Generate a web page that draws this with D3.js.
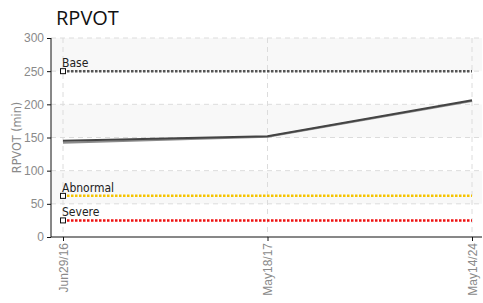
<!DOCTYPE html>
<html>
<head>
<meta charset="utf-8">
<script src="https://cdn.jsdelivr.net/npm/d3@7"></script>
<style>
  body { margin: 0; background: #fff; }
  svg { display: block; font-family: "DejaVu Sans Condensed", "Liberation Sans Narrow", sans-serif; }
  .title { font-family: "Open Sans", "DejaVu Sans", sans-serif; font-size: 20px; fill: #111; }
  .tick text { fill: #8a8a8a; font-size: 12px; }
  .ylabel { fill: #8a8a8a; font-size: 12.5px; }
  .grid line { stroke: #dcdcdc; stroke-dasharray: 5,4; }
  .reflabel { font-size: 12px; fill: #222; }
</style>
</head>
<body>
<div id="chart"></div>
<script>
// data
var dates = ["Jun29/16", "May18/17", "May14/24"];
var rpvotA = [145, 152, 206];   // darker trace
var rpvotB = [142, 151, 205];   // lighter trace underneath
var refNames = ["Base", "Abnormal", "Severe"];
var refValues = [250, 62, 25];
var refColors = ["#555555", "#f5c400", "#ee1111"];
var yTicks = [0, 50, 100, 150, 200, 250, 300];

var W = 483, H = 303;
var m = { left: 51, right: 1, top: 38, bottom: 66 };

var svg = d3.select("#chart").append("svg").attr("width", W).attr("height", H);

var x = d3.scalePoint().domain(dates).range([63, 472]);
var y = d3.scaleLinear().domain([0, 300]).range([H - m.bottom, m.top]);

// alternating bands
var bands = d3.range(0, 300, 50);
svg.append("g").selectAll("rect").data(bands).join("rect")
  .attr("x", m.left).attr("width", W - m.right - m.left)
  .attr("y", function (d) { return y(d + 50); })
  .attr("height", function (d) { return y(d) - y(d + 50); })
  .attr("fill", function (d) { return (d / 50) % 2 === 1 ? "#f8f8f8" : "#fff"; });

// grid
var grid = svg.append("g").attr("class", "grid");
grid.selectAll(".h").data(yTicks.slice(1)).join("line").attr("class", "h")
  .attr("x1", m.left).attr("x2", W - m.right)
  .attr("y1", function (d) { return y(d); }).attr("y2", function (d) { return y(d); });
grid.selectAll(".v").data(dates).join("line").attr("class", "v")
  .attr("x1", function (d) { return x(d); }).attr("x2", function (d) { return x(d); })
  .attr("y1", m.top).attr("y2", H - m.bottom);

// reference lines
refNames.forEach(function (n, i) {
  var yy = y(refValues[i]);
  svg.append("line").attr("x1", x(dates[0])).attr("x2", x(dates[2]))
    .attr("y1", yy).attr("y2", yy)
    .attr("stroke", refColors[i]).attr("stroke-width", 2.5).attr("stroke-dasharray", "2.5,1.5");
  svg.append("rect").attr("x", x(dates[0]) - 2.5).attr("y", yy - 2.5).attr("width", 5).attr("height", 5)
    .attr("fill", "#fff").attr("stroke", "#111").attr("stroke-width", 1);
  svg.append("text").attr("class", "reflabel").attr("x", x(dates[0]) - 1).attr("y", yy - 4).text(n);
});

// data lines
var line = d3.line().x(function (d, i) { return x(dates[i]); }).y(function (d) { return y(d); });
svg.append("path").datum(rpvotB).attr("d", line).attr("fill", "none").attr("stroke", "#8c8c8c").attr("stroke-width", 2);
svg.append("path").datum(rpvotA).attr("d", line).attr("fill", "none").attr("stroke", "#444").attr("stroke-width", 2);

// axes
var yAxis = svg.append("g").attr("transform", "translate(" + m.left + ",0)")
  .call(d3.axisLeft(y).tickValues(yTicks).tickSize(4).tickPadding(3));
yAxis.select(".domain").attr("stroke", "#111").attr("d", "M0," + m.top + "V" + (H - m.bottom));
yAxis.selectAll(".tick line").attr("stroke", "#111");

var xAxis = svg.append("g").attr("transform", "translate(0," + (H - m.bottom) + ")")
  .call(d3.axisBottom(x).tickSize(4).tickPadding(4));
xAxis.select(".domain").attr("stroke", "#111").attr("d", "M" + m.left + ",0H" + (W - m.right));
xAxis.selectAll(".tick line").attr("stroke", "#111");
xAxis.selectAll(".tick text").attr("transform", "rotate(-90)").attr("text-anchor", "end")
  .attr("x", -6).attr("y", 0).attr("dy", "0.35em");

svg.append("text").attr("class", "ylabel").attr("transform", "rotate(-90)")
  .attr("x", -(m.top + (H - m.bottom)) / 2).attr("y", 21).attr("text-anchor", "middle").text("RPVOT (min)");

svg.append("text").attr("class", "title").attr("x", 56).attr("y", 25).text("RPVOT");
</script>
</body>
</html>
